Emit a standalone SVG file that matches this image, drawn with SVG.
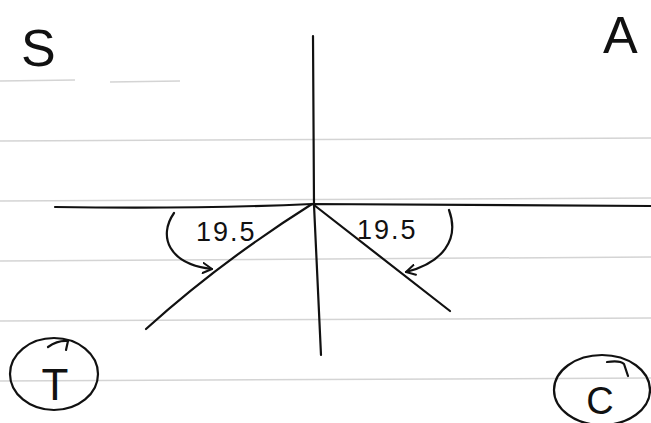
<svg xmlns="http://www.w3.org/2000/svg" width="651" height="423" viewBox="0 0 651 423">
<defs>
<style>
.rule{stroke:#d4d4d4;stroke-width:1.5;fill:none}
.ink{stroke:#111;stroke-width:2.2;fill:none;stroke-linecap:round;stroke-linejoin:round}
.lbl{font-family:"Liberation Sans",Arial,sans-serif;fill:#111}
.num{font-family:"Liberation Sans",Arial,sans-serif;font-size:27px;fill:#111;letter-spacing:2px}
</style>
<marker id="vhead" viewBox="0 0 12 12" refX="10" refY="6" markerWidth="12" markerHeight="12" markerUnits="userSpaceOnUse" orient="auto">
<path d="M1,1 L10,6 L1,11" fill="none" stroke="#111" stroke-width="2" stroke-linecap="round" stroke-linejoin="round"/>
</marker>
</defs>
<rect width="651" height="423" fill="#ffffff"/>
<g id="paper">
<path class="rule" d="M0,81 L75,80 M110,82 L180,81"/>
<path class="rule" d="M0,141 L651,138"/>
<path class="rule" d="M0,201 L651,198"/>
<path class="rule" d="M0,261 L651,257"/>
<path class="rule" d="M0,321 L651,318"/>
<path class="rule" d="M0,381 L651,378"/>
</g>
<g id="axes">
<path class="ink" d="M55,207 Q200,209 312,204 Q480,205 651,206"/>
<path class="ink" d="M313,36 L314,205 L321,355"/>
</g>
<g id="ray-left">
<path class="ink" d="M312,204 Q220,262 146,329"/>
</g>
<g id="ray-right">
<path class="ink" d="M314,205 L450,311"/>
</g>
<g id="quadrant-S"><text class="lbl" x="21" y="66" font-size="52">S</text></g>
<g id="quadrant-A"><text class="lbl" x="603" y="53" font-size="52">A</text></g>
<g id="quadrant-T">
<ellipse class="ink" cx="54" cy="374" rx="44" ry="36"/>
<path class="ink" d="M48,347 Q58,340 68,341 L66,350"/>
<text class="lbl" x="55" y="400" font-size="44" text-anchor="middle">T</text>
</g>
<g id="quadrant-C">
<ellipse class="ink" cx="602" cy="390" rx="48" ry="35"/>
<path class="ink" d="M607,362 Q620,360 624,364 L628,376"/>
<text class="lbl" x="600" y="414" font-size="38" text-anchor="middle">C</text>
</g>
<g id="label-left"><text class="num" x="196" y="241">19.5</text></g>
<g id="label-right"><text class="num" x="357" y="239">19.5</text></g>
<g id="connectors">
<path class="ink" d="M174,213 C158,236 168,264 212,269" marker-end="url(#vhead)"/>
<path class="ink" d="M449,210 C460,240 442,263 406,272" marker-end="url(#vhead)"/>
</g>
</svg>
